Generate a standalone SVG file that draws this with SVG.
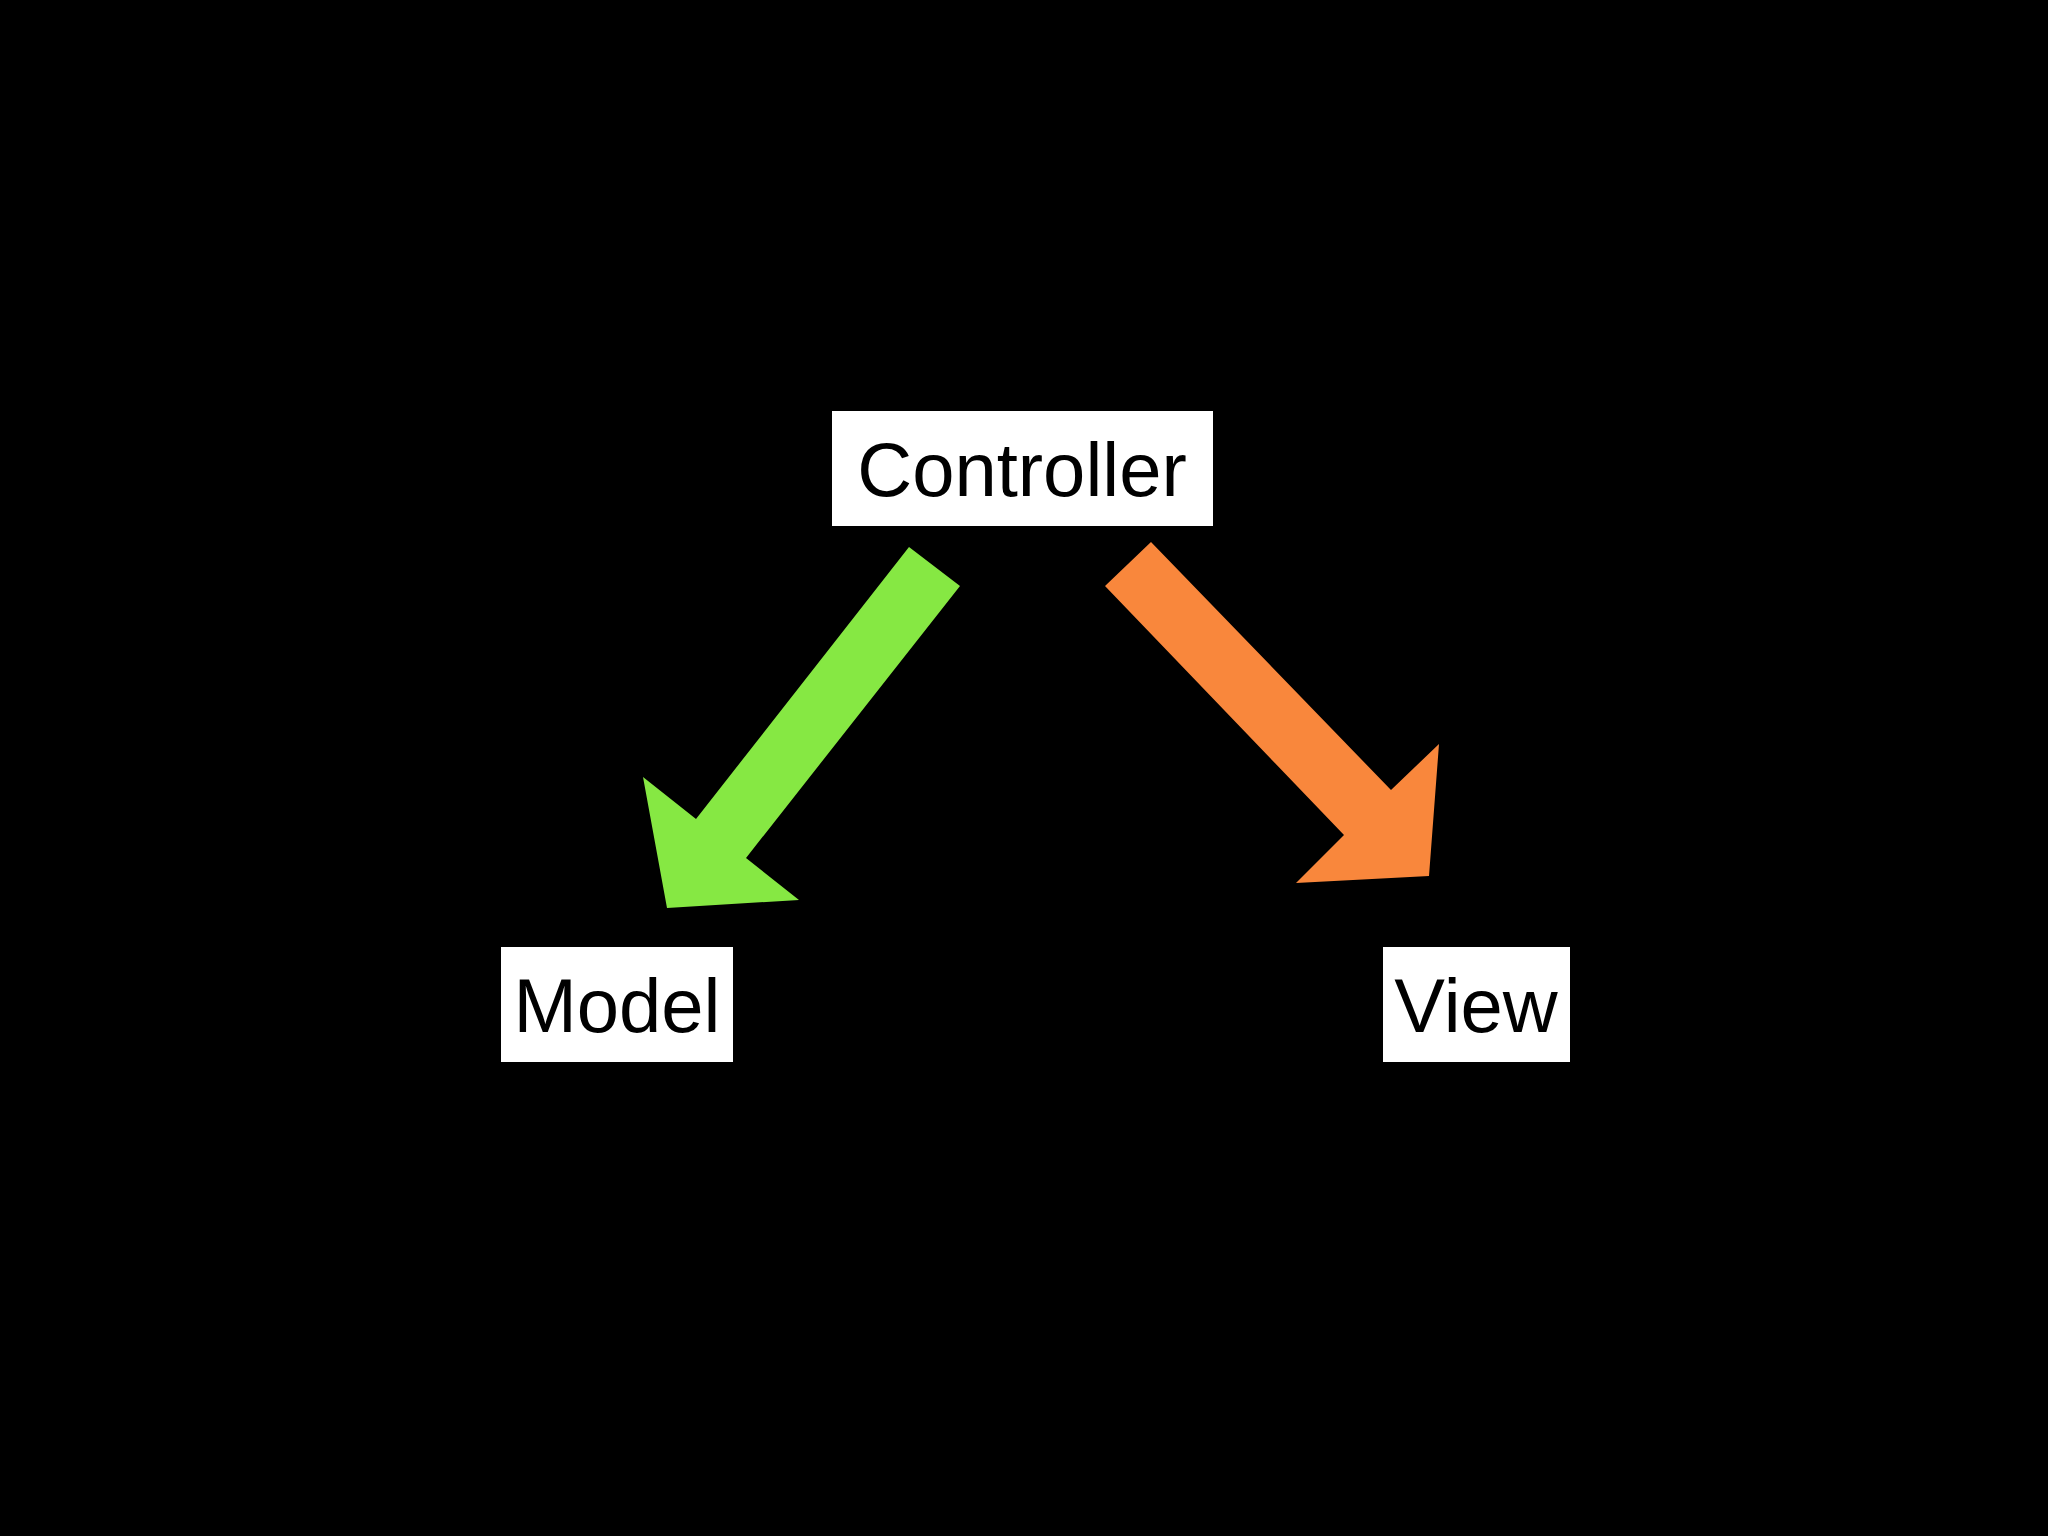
<svg xmlns="http://www.w3.org/2000/svg" width="2048" height="1536" viewBox="0 0 2048 1536">
<style>
.box{fill:#fff}
.lbl{font-family:"Liberation Sans",Arial,sans-serif;font-size:76px;fill:#000;text-anchor:middle}
</style>
<rect width="2048" height="1536" fill="#000"/>
<g id="connectors">
<polygon fill="#86e843" points="909,547 960,586 746,858 799,900 667,908 643,777 696,819"/>
<polygon fill="#f9873c" points="1151,542 1105,586 1344,835 1296,883 1429,876 1439,744 1391,790"/>
</g>
<g id="controller"><rect class="box" x="832" y="411" width="381" height="115"/><text class="lbl" x="1022" y="496">Controller</text></g>
<g id="model"><rect class="box" x="501" y="947" width="232" height="115"/><text class="lbl" x="617" y="1032">Model</text></g>
<g id="view"><rect class="box" x="1383" y="947" width="187" height="115"/><text class="lbl" x="1476" y="1032">View</text></g>
</svg>
